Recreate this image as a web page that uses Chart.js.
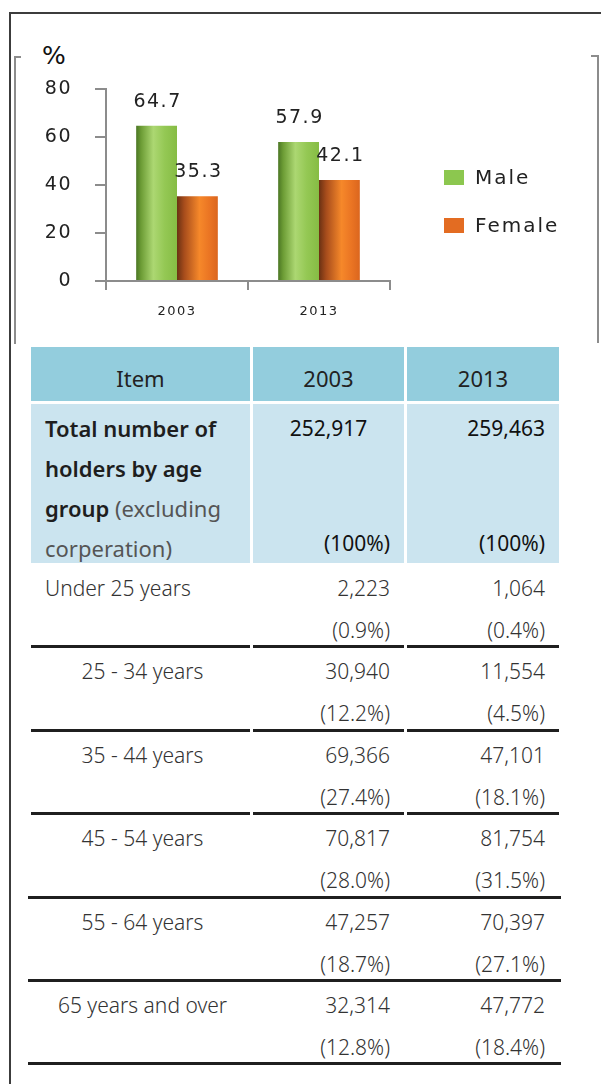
<!DOCTYPE html>
<html>
<head>
<meta charset="utf-8">
<script src="https://cdn.jsdelivr.net/npm/chart.js@4.4.1/dist/chart.umd.min.js"></script>
<style>
  html, body { margin: 0; padding: 0; background: #fff; }
  body { position: relative; width: 601px; height: 1084px; overflow: hidden; font-family: 'Noto Sans', sans-serif; color: #333; }
  .abs { position: absolute; }
  .frame { left: 9px; top: 12px; width: 700px; height: 1200px; border-top: 2px solid #3c3c3c; border-left: 2px solid #3c3c3c; }
  .gline { background: #8c8c8c; }
  #pct { left: 42px; top: 41px; font: 25px 'DejaVu Sans', sans-serif; color: #111; }
  #chart { left: 0; top: 40px; }
  #legend { left: 444px; top: 170px; }
  .lg-item { position: relative; height: 48px; }
  .lg-box { position: absolute; left: 0; top: 0; width: 20px; height: 15px; }
  .lg-text { position: absolute; left: 31px; top: -5px; font: 20px 'DejaVu Sans', sans-serif; letter-spacing: 2px; color: #222; white-space: nowrap; }
  .cell { position: absolute; box-sizing: border-box; white-space: nowrap; }
  .hdr { background: #93cddd; text-align: center; font-size: 22px; color: #222; padding-top: 8px; line-height: 46px; }
  .tot { background: #cbe4ef; font-size: 21px; line-height: 40px; padding-top: 4px; color: #1e1e1e; }
  .row { font-size: 21px; line-height: 42px; padding-top: 4px; color: #333; font-weight: 300; }
  .rule { position: absolute; height: 3px; background: #1f1f1f; }
</style>
</head>
<body>
<div class="abs frame"></div>
<div class="abs gline" style="left:14px;top:56px;width:2px;height:288px"></div>
<div class="abs gline" style="left:14px;top:56px;width:7px;height:2px"></div>
<div class="abs gline" style="left:597px;top:55px;width:2px;height:288px"></div>
<div class="abs gline" style="left:591px;top:55px;width:8px;height:2px"></div>

<div id="pct" class="abs">%</div>
<canvas id="chart" class="abs" width="601" height="300"></canvas>
<div id="legend" class="abs"></div>
<div id="table"></div>

<script>
// ── DATA ──────────────────────────────────────────────────────
const years      = ['2003', '2013'];
const malePct    = [64.7, 57.9];
const femalePct  = [35.3, 42.1];
const yTicks     = [0, 20, 40, 60, 80];

const tableHead  = ['Item', '2003', '2013'];
const total2003  = 252917;
const total2013  = 259463;
const ageGroups  = ['Under 25 years', '25 - 34 years', '35 - 44 years', '45 - 54 years', '55 - 64 years', '65 years and over'];
const holders2003 = [2223, 30940, 69366, 70817, 47257, 32314];
const holders2013 = [1064, 11554, 47101, 81754, 70397, 47772];
const share2003   = [0.9, 12.2, 27.4, 28.0, 18.7, 12.8];
const share2013   = [0.4, 4.5, 18.1, 31.5, 27.1, 18.4];

// ── CHART ─────────────────────────────────────────────────────
Chart.defaults.font.family = "'DejaVu Sans', sans-serif";
Chart.defaults.color = '#222';

const AXIS = '#8c8c8c';

function barGradient(c, stops, fallback) {
  const el = c.element;
  if (!el || el.x == null || !el.width) return fallback;
  const g = c.chart.ctx.createLinearGradient(el.x - el.width / 2, 0, el.x + el.width / 2, 0);
  stops.forEach(s => g.addColorStop(s[0], s[1]));
  return g;
}

const maleStops   = [[0, '#4b7624'], [0.12, '#6c9c35'], [0.42, '#acd772'], [0.7, '#94c854'], [1, '#86bc44']];
const femaleStops = [[0, '#6a3113'], [0.18, '#a84d1c'], [0.55, '#f6882a'], [0.8, '#ea7423'], [1, '#db661e']];

// labels above bars + slightly wider letter spacing like the source
const valueLabels = {
  id: 'valueLabels',
  beforeDraw(chart) { chart.ctx.letterSpacing = '1.5px'; },
  afterDatasetsDraw(chart) {
    const ctx = chart.ctx;
    ctx.save();
    ctx.letterSpacing = '1.5px';
    ctx.font = "19px 'DejaVu Sans', sans-serif";
    ctx.fillStyle = '#222';
    ctx.textAlign = 'center';
    ctx.textBaseline = 'middle';
    chart.data.datasets.forEach((ds, i) => {
      chart.getDatasetMeta(i).data.forEach((bar, j) => {
        ctx.fillText(ds.data[j].toFixed(1), bar.x + 1, bar.y - 24);
      });
    });
    ctx.restore();
  },
  afterDraw(chart) { chart.ctx.letterSpacing = '0px'; }
};

const chart = new Chart(document.getElementById('chart'), {
  type: 'bar',
  data: {
    labels: years,
    datasets: [
      { label: 'Male',   data: malePct,   legendColor: '#8cc74f',
        backgroundColor: c => barGradient(c, maleStops, '#8cc74f') },
      { label: 'Female', data: femalePct, legendColor: '#e36c22',
        backgroundColor: c => barGradient(c, femaleStops, '#e36c22') }
    ]
  },
  options: {
    responsive: false,
    devicePixelRatio: 1,
    animation: false,
    layout: { padding: { left: 0, top: 49, right: 211, bottom: 0 } },
    datasets: { bar: { categoryPercentage: 0.575, barPercentage: 1 } },
    plugins: { legend: { display: false }, tooltip: { enabled: false } },
    scales: {
      x: {
        afterFit: s => { s.height = 59; },
        grid: { offset: true, drawOnChartArea: false, drawTicks: true, tickLength: 9, color: AXIS, lineWidth: 2 },
        border: { display: true, color: AXIS, width: 2 },
        ticks: { font: { size: 13 }, padding: 14, color: '#222' }
      },
      y: {
        min: 0, max: 80,
        afterFit: s => { s.width = 106; },
        afterBuildTicks: s => { s.ticks = yTicks.map(v => ({ value: v })); },
        grid: { drawOnChartArea: false, drawTicks: true, tickLength: 11, color: AXIS, lineWidth: 2 },
        border: { display: true, color: AXIS, width: 2 },
        ticks: { font: { size: 19 }, padding: 23, color: '#222' }
      }
    }
  },
  plugins: [valueLabels]
});
chart.update('none'); // second pass so the bar gradients know their positions

// legend from the datasets
const legend = document.getElementById('legend');
chart.data.datasets.forEach(ds => {
  const item = document.createElement('div');
  item.className = 'lg-item';
  item.innerHTML = `<span class="lg-box" style="background:${ds.legendColor}"></span><span class="lg-text">${ds.label}</span>`;
  legend.appendChild(item);
});

// ── TABLE ─────────────────────────────────────────────────────
const cols = [ { x: 31, w: 219 }, { x: 253, w: 151 }, { x: 407, w: 152 } ];
const fmt = n => n.toLocaleString('en-US');
const pct = n => '(' + n.toFixed(1) + '%)';
const table = document.getElementById('table');

function cell(cls, col, top, h, html, style) {
  const d = document.createElement('div');
  d.className = 'cell ' + cls;
  d.style.cssText = `left:${col.x}px;top:${top}px;width:${col.w}px;height:${h}px;` + (style || '');
  d.innerHTML = html;
  table.appendChild(d);
  return d;
}
function rule(x1, x2, y) {
  const d = document.createElement('div');
  d.className = 'rule';
  d.style.cssText = `left:${x1}px;width:${x2 - x1}px;top:${y - 1.5}px`;
  table.appendChild(d);
}

tableHead.forEach((t, i) => cell('hdr', cols[i], 347, 54, t));

cell('tot', cols[0], 404, 159,
  '<div style="padding-left:14px;font-size:22px"><b style="font-weight:600">Total number of<br>holders by age<br>group</b> <span style="color:#555">(excluding<br>corperation)</span></div>');
cell('tot', cols[1], 404, 159,
  `<div style="text-align:center;color:#111">${fmt(total2003)}</div><div style="position:absolute;right:14px;bottom:0;color:#111">(100%)</div>`);
cell('tot', cols[2], 404, 159,
  `<div style="text-align:right;padding-right:14px;color:#111">${fmt(total2013)}</div><div style="position:absolute;right:14px;bottom:0;color:#111">(100%)</div>`);

const rowTop = 563, rowH = 83.4, splitRules = 3;
ageGroups.forEach((g, i) => {
  const top = Math.round(rowTop + i * rowH);
  const bottom = Math.round(rowTop + (i + 1) * rowH);
  const h = bottom - top;
  cell('row', cols[0], top, h, g, i === 0 ? 'padding-left:14px' : 'text-align:center;padding-left:4px');
  cell('row', cols[1], top, h, fmt(holders2003[i]) + '<br>' + pct(share2003[i]), 'text-align:right;padding-right:14px');
  cell('row', cols[2], top, h, fmt(holders2013[i]) + '<br>' + pct(share2013[i]), 'text-align:right;padding-right:14px');
  if (i < splitRules) cols.forEach(c => rule(c.x, c.x + c.w, bottom));
  else rule(28, 561, bottom);
});
</script>
</body>
</html>
